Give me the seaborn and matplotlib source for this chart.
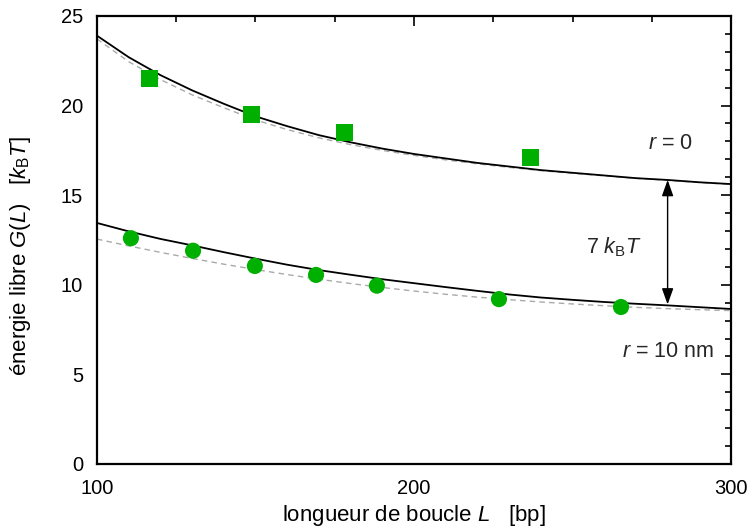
import numpy as np
import pandas as pd
import matplotlib
matplotlib.use("Agg")
import matplotlib.pyplot as plt
import seaborn as sns

# ---- data ----
L_curve = [100, 110, 120, 130, 140, 150, 160, 170, 180, 190, 200,
           210, 220, 230, 240, 250, 260, 270, 280, 290, 300]
G_r0_model = [23.9, 22.7, 21.7, 20.85, 20.1, 19.4, 18.85, 18.35, 17.95, 17.6, 17.3,
              17.05, 16.8, 16.6, 16.4, 16.25, 16.1, 15.95, 15.85, 15.72, 15.62]
G_r0_approx = [23.72, 22.45, 21.45, 20.6, 19.88, 19.2, 18.66, 18.2, 17.82, 17.5, 17.22,
               16.97, 16.75, 16.55, 16.37, 16.22, 16.08, 15.94, 15.83, 15.71, 15.6]
G_r10_model = [13.45, 12.98, 12.56, 12.2, 11.82, 11.46, 11.12, 10.82, 10.56, 10.31, 10.09,
               9.87, 9.66, 9.46, 9.29, 9.16, 9.04, 8.94, 8.85, 8.75, 8.65]
G_r10_approx = [12.55, 12.17, 11.81, 11.47, 11.15, 10.85, 10.57, 10.31, 10.07, 9.85, 9.65,
                9.47, 9.31, 9.17, 9.04, 8.93, 8.83, 8.74, 8.67, 8.61, 8.56]

L_squares = [116.7, 148.6, 178.0, 236.6]
G_squares = [21.5, 19.5, 18.5, 17.1]
L_circles = [110.7, 130.3, 149.8, 169.1, 188.3, 226.8, 265.3]
G_circles = [12.6, 11.9, 11.05, 10.55, 9.95, 9.2, 8.76]

arrow_L = 280
arrow_top = 15.85
arrow_bottom = 8.9
gap_label = "7 $k_\\mathrm{B}T$"
label_r0 = "$r$ = 0"
label_r10 = "$r$ = 10 nm"

x_ticks = [100, 200, 300]
y_ticks = [0, 5, 10, 15, 20, 25]

# ---- style ----
sns.set_theme(style="white")
plt.rcParams["font.family"] = ["Liberation Sans", "DejaVu Sans"]
plt.rcParams["mathtext.fontset"] = "custom"
plt.rcParams["mathtext.rm"] = "Liberation Sans"
plt.rcParams["mathtext.it"] = "Liberation Sans:italic"
plt.rcParams["mathtext.bf"] = "Liberation Sans:bold"

green = "#00B000"

fig = plt.figure(figsize=(7.53, 5.29), dpi=100)
ax = fig.add_axes([0.1288, 0.1229, 0.8420, 0.8469])

curves = pd.DataFrame({"L": L_curve, "r0m": G_r0_model, "r0a": G_r0_approx,
                       "r10m": G_r10_model, "r10a": G_r10_approx})

for col in ["r0a", "r10a"]:
    sns.lineplot(data=curves, x="L", y=col, ax=ax, color="#aaaaaa", lw=1.0,
                 dashes=False, linestyle=(0, (4, 3)), zorder=2)
for col in ["r0m", "r10m"]:
    sns.lineplot(data=curves, x="L", y=col, ax=ax, color="black", lw=1.3, zorder=3)

sq = pd.DataFrame({"L": L_squares, "G": G_squares})
ci = pd.DataFrame({"L": L_circles, "G": G_circles})
sns.scatterplot(data=sq, x="L", y="G", ax=ax, marker="s", s=150, color=green,
                edgecolor="none", linewidth=0, zorder=4)
sns.scatterplot(data=ci, x="L", y="G", ax=ax, marker="o", s=135, color=green,
                edgecolor="none", linewidth=0, zorder=4)

ax.annotate("", xy=(arrow_L, arrow_top), xytext=(arrow_L, arrow_bottom),
            arrowprops=dict(arrowstyle="<|-|>,head_length=0.7,head_width=0.25",
                            color="black", lw=1.0,
                            mutation_scale=14, shrinkA=0, shrinkB=0))
ax.text(263, 12.1, gap_label, ha="center", va="center", fontsize=15.5)
ax.text(281, 17.9, label_r0, ha="center", va="center", fontsize=15.5)
ax.text(280, 6.3, label_r10, ha="center", va="center", fontsize=15.5)

ax.set_xlim(100, 300)
ax.set_ylim(0, 25)
ax.set_xticks(x_ticks)
ax.set_yticks(y_ticks)
ax.set_xticks(np.arange(125, 300, 25), minor=True)
ax.set_yticks(np.arange(0, 25, 1), minor=True)
ax.tick_params(which="both", direction="in", top=True, right=True,
               color="black", labelcolor="black", labelsize=14.5, pad=10)
ax.tick_params(which="major", length=7, width=1.2)
ax.tick_params(which="minor", length=4, width=1.2)
ax.tick_params(axis="x", which="major", pad=11)

for sp in ax.spines.values():
    sp.set_visible(True)
    sp.set_color("black")
    sp.set_linewidth(1.6)

ax.set_xlabel("longueur de boucle $L$   [bp]", fontsize=16, color="black")
ax.set_ylabel("énergie libre $G(L)$   [$k_\\mathrm{B}T$]", fontsize=16, color="black")
ax.xaxis.set_label_coords(0.5, -0.088)
ax.yaxis.set_label_coords(-0.101, 0.464)

fig.savefig("out.png", dpi=100)
